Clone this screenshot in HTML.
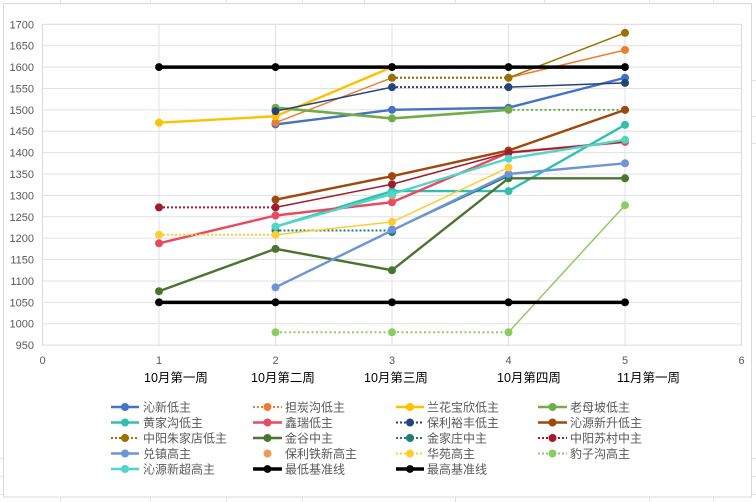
<!DOCTYPE html>
<html>
<head>
<meta charset="utf-8">
<style>
html,body{margin:0;padding:0;background:#fff;}
svg{display:block;}
text{font-family:"Liberation Sans","Noto Sans CJK SC",sans-serif;}
</style>
</head>
<body>
<svg width="756" height="502" viewBox="0 0 756 502" xmlns="http://www.w3.org/2000/svg">
<rect x="0" y="0" width="756" height="502" fill="#fff"/>
<!-- spreadsheet grid outside chart -->
<g stroke="#e3e3e3" stroke-width="1">
  <line x1="60.5" y1="0" x2="60.5" y2="3"/>
  <line x1="150.5" y1="0" x2="150.5" y2="3"/>
  <line x1="226.5" y1="0" x2="226.5" y2="3"/>
  <line x1="302.5" y1="0" x2="302.5" y2="3"/>
  <line x1="364.5" y1="0" x2="364.5" y2="3"/>
  <line x1="455.5" y1="0" x2="455.5" y2="3"/>
  <line x1="544.5" y1="0" x2="544.5" y2="3"/>
  <line x1="649.5" y1="0" x2="649.5" y2="3"/>
  <line x1="713.5" y1="0" x2="713.5" y2="3"/>
  <line x1="60.5" y1="497" x2="60.5" y2="502"/>
  <line x1="150.5" y1="497" x2="150.5" y2="502"/>
  <line x1="226.5" y1="497" x2="226.5" y2="502"/>
  <line x1="302.5" y1="497" x2="302.5" y2="502"/>
  <line x1="455.5" y1="497" x2="455.5" y2="502"/>
  <line x1="649.5" y1="497" x2="649.5" y2="502"/>
  <line x1="713.5" y1="497" x2="713.5" y2="502"/>
  <line x1="0" y1="458.5" x2="3" y2="458.5"/>
  <line x1="0" y1="476.5" x2="3" y2="476.5"/>
  <line x1="0" y1="494.5" x2="3" y2="494.5"/>
  <line x1="752" y1="458.5" x2="756" y2="458.5"/>
  <line x1="752" y1="476.5" x2="756" y2="476.5"/>
  <line x1="752" y1="494.5" x2="756" y2="494.5"/>
  <line x1="752" y1="80.5" x2="756" y2="80.5"/>
  <line x1="752" y1="116.5" x2="756" y2="116.5"/>
  <line x1="752" y1="143.5" x2="756" y2="143.5"/>
</g>
<!-- chart border -->
<rect x="3.5" y="3.5" width="748" height="493.5" fill="#fff" stroke="#d9d9d9" stroke-width="1"/>

<!-- horizontal gridlines -->
<g stroke="#e0e0e0" stroke-width="1">
  <line x1="42.5" y1="45.69" x2="741.5" y2="45.69"/>
  <line x1="42.5" y1="67.07" x2="741.5" y2="67.07"/>
  <line x1="42.5" y1="88.46" x2="741.5" y2="88.46"/>
  <line x1="42.5" y1="109.85" x2="741.5" y2="109.85"/>
  <line x1="42.5" y1="131.23" x2="741.5" y2="131.23"/>
  <line x1="42.5" y1="152.62" x2="741.5" y2="152.62"/>
  <line x1="42.5" y1="174.0" x2="741.5" y2="174.0"/>
  <line x1="42.5" y1="195.39" x2="741.5" y2="195.39"/>
  <line x1="42.5" y1="216.78" x2="741.5" y2="216.78"/>
  <line x1="42.5" y1="238.16" x2="741.5" y2="238.16"/>
  <line x1="42.5" y1="259.55" x2="741.5" y2="259.55"/>
  <line x1="42.5" y1="280.94" x2="741.5" y2="280.94"/>
  <line x1="42.5" y1="302.32" x2="741.5" y2="302.32"/>
  <line x1="42.5" y1="323.71" x2="741.5" y2="323.71"/>
  <!-- vertical -->
  <line x1="159" y1="24.3" x2="159" y2="345.1"/>
  <line x1="275.5" y1="24.3" x2="275.5" y2="345.1"/>
  <line x1="392" y1="24.3" x2="392" y2="345.1"/>
  <line x1="508.5" y1="24.3" x2="508.5" y2="345.1"/>
  <line x1="625" y1="24.3" x2="625" y2="345.1"/>
</g>
<rect x="42.5" y="24.3" width="699" height="320.8" fill="none" stroke="#d9d9d9" stroke-width="1"/>

<!-- y labels -->
<g font-size="11" fill="#595959" text-anchor="end">
  <text x="34" y="28.3">1700</text>
  <text x="34" y="49.7">1650</text>
  <text x="34" y="71.1">1600</text>
  <text x="34" y="92.5">1550</text>
  <text x="34" y="113.9">1500</text>
  <text x="34" y="135.2">1450</text>
  <text x="34" y="156.6">1400</text>
  <text x="34" y="178.0">1350</text>
  <text x="34" y="199.4">1300</text>
  <text x="34" y="220.8">1250</text>
  <text x="34" y="242.2">1200</text>
  <text x="34" y="263.6">1150</text>
  <text x="34" y="284.9">1100</text>
  <text x="34" y="306.3">1050</text>
  <text x="34" y="327.7">1000</text>
  <text x="34" y="349.1">950</text>
</g>
<!-- x numeric labels -->
<g font-size="11" fill="#595959" text-anchor="middle">
  <text x="42.5" y="364">0</text>
  <text x="159" y="364">1</text>
  <text x="275.5" y="364">2</text>
  <text x="392" y="364">3</text>
  <text x="508.5" y="364">4</text>
  <text x="625" y="364">5</text>
  <text x="741.5" y="364">6</text>
</g>
<!-- category labels -->
<g font-size="12.5" fill="#000">
  <text x="144" y="382">10月第一周</text>
  <text x="251" y="382">10月第二周</text>
  <text x="364" y="382">10月第三周</text>
  <text x="497" y="382">10月第四周</text>
  <text x="617" y="382">11月第一周</text>
</g>

<!-- SERIES -->
<g fill="none" stroke-linejoin="round">
<!-- 1 沁新低主 -->
<polyline points="275.5,124.39 392,109.85 508.5,107.71 625,77.77" stroke="#4472C4" stroke-width="2.4"/>
<g fill="#4472C4"><circle cx="275.5" cy="124.39" r="4"/><circle cx="392" cy="109.85" r="4"/><circle cx="508.5" cy="107.71" r="4"/><circle cx="625" cy="77.77" r="4"/></g>
<!-- 2 担炭沟低主 -->
<line x1="275.5" y1="122.68" x2="392" y2="77.77" stroke="#ED7D31" stroke-width="1.5"/>
<line x1="392" y1="77.77" x2="508.5" y2="77.77" stroke="#ED7D31" stroke-width="2" stroke-dasharray="2,2"/>
<line x1="508.5" y1="77.77" x2="625" y2="49.96" stroke="#ED7D31" stroke-width="1.5"/>
<g fill="#ED7D31"><circle cx="275.5" cy="122.68" r="4"/><circle cx="392" cy="77.77" r="4"/><circle cx="508.5" cy="77.77" r="4"/><circle cx="625" cy="49.96" r="4"/></g>
<!-- 3 兰花宝欣低主 -->
<polyline points="159,122.68 275.5,116.26 392,67.07" stroke="#FFC000" stroke-width="2.4"/>
<g fill="#FFC000"><circle cx="159" cy="122.68" r="4"/><circle cx="275.5" cy="116.26" r="4"/><circle cx="392" cy="67.07" r="4"/></g>
<!-- 4 老母坡低主 -->
<polyline points="275.5,107.71 392,118.40 508.5,109.85" stroke="#70AD47" stroke-width="2.6"/>
<line x1="508.5" y1="109.85" x2="625" y2="109.85" stroke="#70AD47" stroke-width="2" stroke-dasharray="2,2.5"/>
<g fill="#70AD47"><circle cx="275.5" cy="107.71" r="4"/><circle cx="392" cy="118.40" r="4"/><circle cx="508.5" cy="109.85" r="4"/><circle cx="625" cy="109.85" r="4"/></g>
<!-- 5 黄家沟低主 -->
<polyline points="275.5,226.62 392,191.11 508.5,191.11 625,124.82" stroke="#30BFB0" stroke-width="2.4"/>
<g fill="#30BFB0"><circle cx="275.5" cy="226.62" r="4"/><circle cx="392" cy="191.11" r="4"/><circle cx="508.5" cy="191.11" r="4"/><circle cx="625" cy="124.82" r="4"/></g>
<!-- 6 鑫瑞低主 -->
<polyline points="159,243.30 275.5,215.50 392,202.24 508.5,152.62 625,141.93" stroke="#E84A5F" stroke-width="2.4"/>
<g fill="#E84A5F"><circle cx="159" cy="243.30" r="4"/><circle cx="275.5" cy="215.50" r="4"/><circle cx="392" cy="202.24" r="4"/><circle cx="508.5" cy="152.62" r="4"/><circle cx="625" cy="141.93" r="4"/></g>
<!-- 7 保利裕丰低主 -->
<line x1="275.5" y1="111.13" x2="392" y2="87.18" stroke="#264478" stroke-width="1.5"/>
<line x1="392" y1="87.18" x2="508.5" y2="87.18" stroke="#264478" stroke-width="2" stroke-dasharray="2,2"/>
<line x1="508.5" y1="87.18" x2="625" y2="82.90" stroke="#264478" stroke-width="1.5"/>
<g fill="#264478"><circle cx="275.5" cy="111.13" r="4"/><circle cx="392" cy="87.18" r="4"/><circle cx="508.5" cy="87.18" r="4"/><circle cx="625" cy="82.90" r="4"/></g>
<!-- 8 沁源新升低主 -->
<polyline points="275.5,199.67 392,176.14 508.5,150.48 625,109.85" stroke="#9E480E" stroke-width="2.4"/>
<g fill="#9E480E"><circle cx="275.5" cy="199.67" r="4"/><circle cx="392" cy="176.14" r="4"/><circle cx="508.5" cy="150.48" r="4"/><circle cx="625" cy="109.85" r="4"/></g>
<!-- 9 中阳朱家店低主 -->
<line x1="392" y1="77.77" x2="508.5" y2="77.77" stroke="#997300" stroke-width="2" stroke-dasharray="2,2"/>
<line x1="508.5" y1="77.77" x2="625" y2="32.85" stroke="#997300" stroke-width="1.5"/>
<g fill="#997300"><circle cx="392" cy="77.77" r="4"/><circle cx="508.5" cy="77.77" r="4"/><circle cx="625" cy="32.85" r="4"/></g>
<!-- 10 金谷中主 -->
<polyline points="159,291.20 275.5,248.86 392,270.24 508.5,178.28 625,178.28" stroke="#4A7530" stroke-width="2.4"/>
<g fill="#4A7530"><circle cx="159" cy="291.20" r="4"/><circle cx="275.5" cy="248.86" r="4"/><circle cx="392" cy="270.24" r="4"/><circle cx="508.5" cy="178.28" r="4"/><circle cx="625" cy="178.28" r="4"/></g>
<!-- 11 金家庄中主 -->
<line x1="275.5" y1="230.47" x2="392" y2="230.47" stroke="#1E7B75" stroke-width="2" stroke-dasharray="2,2"/>
<line x1="392" y1="230.47" x2="508.5" y2="176.14" stroke="#1E7B75" stroke-width="1.5"/>
<g fill="#1E7B75"><circle cx="275.5" cy="230.47" r="4"/><circle cx="392" cy="232" r="4"/><circle cx="508.5" cy="176.14" r="4"/></g>
<!-- 12 中阳苏村中主 -->
<line x1="159" y1="207.37" x2="275.5" y2="207.37" stroke="#A01C2C" stroke-width="2" stroke-dasharray="2,2"/>
<polyline points="275.5,207.37 392,184.27 508.5,152.62 625,141.93" stroke="#A01C2C" stroke-width="1.5"/>
<g fill="#A01C2C"><circle cx="159" cy="207.37" r="4"/><circle cx="275.5" cy="207.37" r="4"/><circle cx="392" cy="184.27" r="4"/><circle cx="508.5" cy="152.62" r="4"/></g>
<!-- 13 兑镇高主 -->
<polyline points="275.5,287.35 392,230.47 508.5,174.0 625,163.31" stroke="#6F94D6" stroke-width="2.4"/>
<g fill="#6F94D6"><circle cx="275.5" cy="287.35" r="4"/><circle cx="392" cy="229.5" r="4"/><circle cx="508.5" cy="174.0" r="4"/><circle cx="625" cy="163.31" r="4"/></g>
<!-- 14 保利铁新高主 -->
<circle cx="392" cy="195.39" r="4" fill="#F1975A" stroke="none"/>
<!-- 15 华苑高主 -->
<line x1="159" y1="234.74" x2="275.5" y2="234.74" stroke="#FFCD33" stroke-width="2" stroke-dasharray="2,2"/>
<polyline points="275.5,234.74 392,221.91 508.5,167.59" stroke="#FFCD33" stroke-width="1.5"/>
<g fill="#FFCD33"><circle cx="159" cy="234.74" r="4"/><circle cx="275.5" cy="234.74" r="4"/><circle cx="392" cy="221.91" r="4"/><circle cx="508.5" cy="167.59" r="4"/></g>
<!-- 16 豹子沟高主 -->
<line x1="275.5" y1="332.27" x2="508.5" y2="332.27" stroke="#8FCB64" stroke-width="2" stroke-dasharray="2,2.5"/>
<line x1="508.5" y1="332.27" x2="625" y2="205.23" stroke="#8FCB64" stroke-width="1.5"/>
<g fill="#8FCB64"><circle cx="275.5" cy="332.27" r="4"/><circle cx="392" cy="332.27" r="4"/><circle cx="508.5" cy="332.27" r="4"/><circle cx="625" cy="205.23" r="4"/></g>
<!-- 17 沁源新超高主 -->
<polyline points="275.5,226.62 392,194 508.5,158.61 625,139.79" stroke="#4FD6C6" stroke-width="2.4"/>
<g fill="#4FD6C6"><circle cx="275.5" cy="226.62" r="4"/><circle cx="392" cy="194" r="4"/><circle cx="508.5" cy="158.61" r="4"/><circle cx="625" cy="139.79" r="4"/></g>
<!-- 18 最低基准线 -->
<line x1="159" y1="302.32" x2="625" y2="302.32" stroke="#000" stroke-width="3.5"/>
<g fill="#000"><circle cx="159" cy="302.32" r="3.9"/><circle cx="275.5" cy="302.32" r="3.9"/><circle cx="392" cy="302.32" r="3.9"/><circle cx="508.5" cy="302.32" r="3.9"/><circle cx="625" cy="302.32" r="3.9"/></g>
<!-- 19 最高基准线 -->
<line x1="159" y1="67.07" x2="625" y2="67.07" stroke="#000" stroke-width="3.5"/>
<g fill="#000"><circle cx="159" cy="67.07" r="3.9"/><circle cx="275.5" cy="67.07" r="3.9"/><circle cx="392" cy="67.07" r="3.9"/><circle cx="508.5" cy="67.07" r="3.9"/><circle cx="625" cy="67.07" r="3.9"/></g>
</g>

<!-- LEGEND -->
<g fill="none">
  <!-- row 1 y=407 -->
  <line x1="111" y1="407" x2="139" y2="407" stroke="#4472C4" stroke-width="2.4"/><circle cx="125" cy="407" r="4" fill="#4472C4"/>
  <line x1="253" y1="407" x2="282" y2="407" stroke="#ED7D31" stroke-width="2" stroke-dasharray="2,2"/><circle cx="267.5" cy="407" r="4" fill="#ED7D31"/>
  <line x1="396" y1="407" x2="424" y2="407" stroke="#FFC000" stroke-width="2.4"/><circle cx="410" cy="407" r="4" fill="#FFC000"/>
  <line x1="538" y1="407" x2="567" y2="407" stroke="#70AD47" stroke-width="2.6"/><circle cx="552.5" cy="407" r="4" fill="#70AD47"/>
  <!-- row 2 y=422.5 -->
  <line x1="111" y1="422.5" x2="139" y2="422.5" stroke="#30BFB0" stroke-width="2.4"/><circle cx="125" cy="422.5" r="4" fill="#30BFB0"/>
  <line x1="253" y1="422.5" x2="282" y2="422.5" stroke="#E84A5F" stroke-width="2.4"/><circle cx="267.5" cy="422.5" r="4" fill="#E84A5F"/>
  <line x1="396" y1="422.5" x2="424" y2="422.5" stroke="#264478" stroke-width="2" stroke-dasharray="2,2"/><circle cx="410" cy="422.5" r="4" fill="#264478"/>
  <line x1="538" y1="422.5" x2="567" y2="422.5" stroke="#9E480E" stroke-width="2.4"/><circle cx="552.5" cy="422.5" r="4" fill="#9E480E"/>
  <!-- row 3 y=438 -->
  <line x1="111" y1="438" x2="139" y2="438" stroke="#997300" stroke-width="2" stroke-dasharray="2,2"/><circle cx="125" cy="438" r="4" fill="#997300"/>
  <line x1="253" y1="438" x2="282" y2="438" stroke="#4A7530" stroke-width="2.4"/><circle cx="267.5" cy="438" r="4" fill="#4A7530"/>
  <line x1="396" y1="438" x2="424" y2="438" stroke="#1E7B75" stroke-width="2" stroke-dasharray="2,2"/><circle cx="410" cy="438" r="4" fill="#1E7B75"/>
  <line x1="538" y1="438" x2="567" y2="438" stroke="#A01C2C" stroke-width="2" stroke-dasharray="2,2"/><circle cx="552.5" cy="438" r="4" fill="#A01C2C"/>
  <!-- row 4 y=453.5 -->
  <line x1="111" y1="453.5" x2="139" y2="453.5" stroke="#6F94D6" stroke-width="2.4"/><circle cx="125" cy="453.5" r="4" fill="#6F94D6"/>
  <circle cx="267.5" cy="453.5" r="4" fill="#F1975A"/>
  <line x1="396" y1="453.5" x2="424" y2="453.5" stroke="#FFCD33" stroke-width="2" stroke-dasharray="2,2"/><circle cx="410" cy="453.5" r="4" fill="#FFCD33"/>
  <line x1="538" y1="453.5" x2="567" y2="453.5" stroke="#8FCB64" stroke-width="2" stroke-dasharray="2,2"/><circle cx="552.5" cy="453.5" r="4" fill="#8FCB64"/>
  <!-- row 5 y=469 -->
  <line x1="111" y1="469" x2="139" y2="469" stroke="#4FD6C6" stroke-width="2.4"/><circle cx="125" cy="469" r="4" fill="#4FD6C6"/>
  <line x1="253" y1="469" x2="282" y2="469" stroke="#000" stroke-width="3.5"/><circle cx="267.5" cy="469" r="3.9" fill="#000"/>
  <line x1="396" y1="469" x2="424" y2="469" stroke="#000" stroke-width="3.5"/><circle cx="410" cy="469" r="3.9" fill="#000"/>
</g>
<g font-size="12" fill="#595959">
  <text x="143" y="411.5">沁新低主</text>
  <text x="285" y="411.5">担炭沟低主</text>
  <text x="427" y="411.5">兰花宝欣低主</text>
  <text x="570" y="411.5">老母坡低主</text>
  <text x="143" y="427">黄家沟低主</text>
  <text x="285" y="427">鑫瑞低主</text>
  <text x="427" y="427">保利裕丰低主</text>
  <text x="570" y="427">沁源新升低主</text>
  <text x="143" y="442.5">中阳朱家店低主</text>
  <text x="285" y="442.5">金谷中主</text>
  <text x="427" y="442.5">金家庄中主</text>
  <text x="570" y="442.5">中阳苏村中主</text>
  <text x="143" y="458">兑镇高主</text>
  <text x="285" y="458">保利铁新高主</text>
  <text x="427" y="458">华苑高主</text>
  <text x="570" y="458">豹子沟高主</text>
  <text x="143" y="473.5">沁源新超高主</text>
  <text x="285" y="473.5">最低基准线</text>
  <text x="427" y="473.5">最高基准线</text>
</g>
</svg>
</body>
</html>
